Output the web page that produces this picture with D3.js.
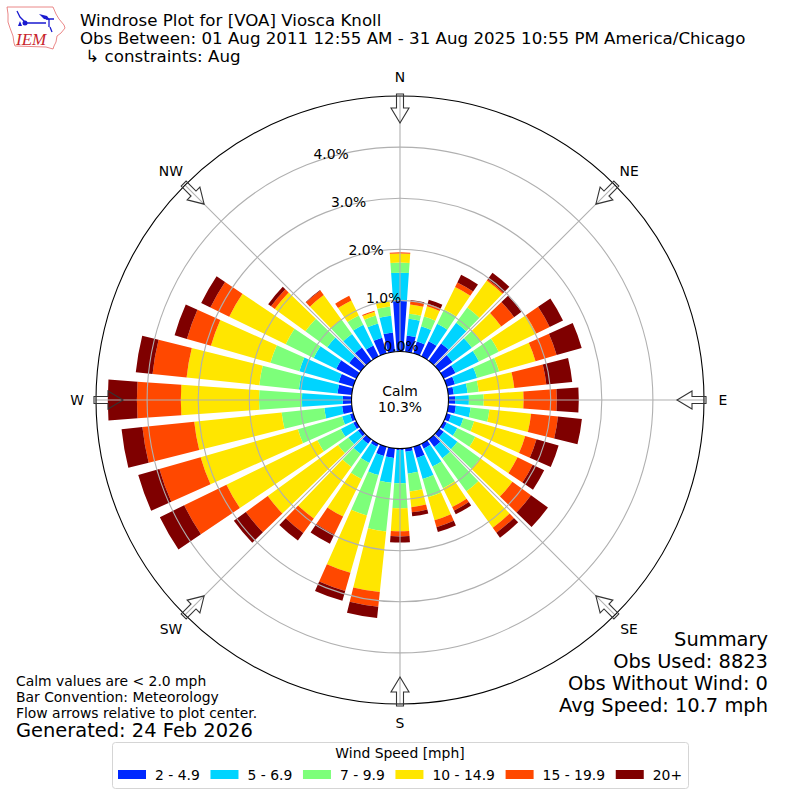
<!DOCTYPE html>
<html>
<head>
<meta charset="utf-8">
<script src="https://cdn.jsdelivr.net/npm/d3@7"></script>
<style>
  html, body { margin: 0; padding: 0; background: #fff; }
  text { font-family: "DejaVu Sans", sans-serif; fill: #000; }
</style>
</head>
<body>
<script>
//wind directions in degrees, one bar every 10 degrees starting at north
var directions = d3.range(0, 360, 10);

//percent of observations per direction for each speed class
var speed2to5 = [.99,.32,.24,.33,.42,.32,.26,.17,.11,.13,.15,.09,.07,.11,.19,.11,.23,.07,.03,.19,.19,.07,.11,.07,.07,.07,.19,.17,.28,.30,.44,.28,.32,.24,.32,.38];
var speed5to7 = [.55,.33,.31,.38,.50,.47,.51,.45,.27,.27,.29,.25,.23,.33,.27,.39,.43,.43,.65,.49,.39,.35,.25,.23,.27,.16,.35,.80,.76,.80,.49,.53,.33,.45,.29,.33];
var speed7to10 = [.20,.10,.20,.31,.37,.22,.43,.45,.22,.29,.37,.22,.39,.55,.80,.47,.37,.35,.49,.96,.82,.35,.31,.25,.51,.90,.84,.84,.78,.59,.61,.53,.35,.20,.16,.18];
var speed10to15 = [.18,.18,.21,.49,.65,.49,.82,.74,.70,.78,.82,1.04,.92,.78,.88,.41,.47,.31,.45,1.19,1.17,.82,1.25,1.70,1.98,1.98,1.72,1.53,1.43,1.21,1.23,.74,.59,.33,.08,.12];
var speed15to20 = [.02,.07,.05,.10,.03,.31,.29,.43,.63,.65,.53,.23,.33,.45,.12,.08,.14,.10,.10,.29,.37,.39,.35,.53,.92,.84,1.02,.86,.67,.49,.41,.09,.11,.10,.02,0];
var speed20up = [0,.02,.08,.17,.16,.18,.29,.51,.51,.43,.47,.45,.25,.41,.12,.08,.10,.08,.12,.22,.20,.20,.18,.29,.53,.43,.41,.57,.33,.25,.20,.07,.01,0,0,0];

var speedLabels = ["2 - 4.9", "5 - 6.9", "7 - 9.9", "10 - 14.9", "15 - 19.9", "20+"];
var speedColors = ["#0028ff", "#00d4ff", "#7dff7a", "#ffe600", "#ff4800", "#7f0000"];

//radial gridlines and compass labels
var ringTicks = [0, 1, 2, 3, 4];
var compassAngles = [0, 45, 90, 135, 180, 225, 270, 315];
var compassLabels = ["N", "NE", "E", "SE", "S", "SW", "W", "NW"];

var titleLines = ["Windrose Plot for [VOA] Viosca Knoll",
    "Obs Between: 01 Aug 2011 12:55 AM - 31 Aug 2025 10:55 PM America/Chicago",
    " \u21b3 constraints: Aug"];
var noteLines = ["Calm values are < 2.0 mph", "Bar Convention: Meteorology", "Flow arrows relative to plot center."];
var summaryLines = ["Summary", "Obs Used: 8823", "Obs Without Wind: 0", "Avg Speed: 10.7 mph"];

//execute script when window is loaded
window.onload = function(){
    var width = 800, height = 800;
    var cx = 400, cy = 400;
    var rad = Math.PI / 180;

    var svg = d3.select("body").append("svg")
        .attr("width", width)
        .attr("height", height)
        .style("display", "block");

    var plot = svg.append("g").attr("transform", "translate(" + cx + "," + cy + ")");

    //percent to pixels, 0% sits on the calm circle
    var r = d3.scaleLinear().domain([0, 5]).range([48.5, 304]);

    //stack the six speed classes per direction
    var table = directions.map(function(d, i){
        return {dir: d, a: speed2to5[i], b: speed5to7[i], c: speed7to10[i], d: speed10to15[i], e: speed15to20[i], f: speed20up[i]};
    });
    var keys = ["a", "b", "c", "d", "e", "f"];
    var stacked = d3.stack().keys(keys)(table);

    var arc = d3.arc()
        .startAngle(function(d){ return (d.data.dir - 4) * rad; })
        .endAngle(function(d){ return (d.data.dir + 4) * rad; })
        .innerRadius(function(d){ return r(d[0]); })
        .outerRadius(function(d){ return r(d[1]); });

    plot.selectAll("g.speed")
        .data(stacked)
        .enter().append("g")
        .attr("class", "speed")
        .attr("fill", function(d, i){ return speedColors[i]; })
        .selectAll("path")
        .data(function(d){ return d; })
        .enter().append("path")
        .attr("d", arc);

    //gridlines go above the bars
    plot.selectAll("circle.ring")
        .data(ringTicks.slice(1))
        .enter().append("circle")
        .attr("class", "ring")
        .attr("r", function(d){ return r(d); })
        .attr("fill", "none")
        .attr("stroke", "#b0b0b0")
        .attr("stroke-width", 1.1);

    plot.selectAll("line.spoke")
        .data(compassAngles)
        .enter().append("line")
        .attr("class", "spoke")
        .attr("x1", function(d){ return r(0) * Math.sin(d * rad); })
        .attr("y1", function(d){ return -r(0) * Math.cos(d * rad); })
        .attr("x2", function(d){ return r(5) * Math.sin(d * rad); })
        .attr("y2", function(d){ return -r(5) * Math.cos(d * rad); })
        .attr("stroke", "#b0b0b0")
        .attr("stroke-width", 1.1);

    //outer frame and calm circle
    plot.append("circle").attr("r", r(5)).attr("fill", "none").attr("stroke", "#000").attr("stroke-width", 1.1);
    plot.append("circle").attr("r", r(0)).attr("fill", "#fff").attr("stroke", "#000").attr("stroke-width", 1.1);

    //flow arrows, drawn pointing in at the centre then rotated
    var arrowPoints = "-3.5,-306 3.5,-306 3.5,-292 9,-292 0,-277 -9,-292 -3.5,-292";
    plot.selectAll("polygon.flow")
        .data(compassAngles)
        .enter().append("polygon")
        .attr("class", "flow")
        .attr("points", arrowPoints)
        .attr("transform", function(d){ return "rotate(" + d + ")"; })
        .attr("fill", "none")
        .attr("stroke", "#333")
        .attr("stroke-width", 1.1);

    //radial labels run up a line 20 degrees off north
    plot.selectAll("text.rlabel")
        .data(ringTicks)
        .enter().append("text")
        .attr("class", "rlabel")
        .attr("x", function(d){ return -r(d) * Math.sin(20 * rad); })
        .attr("y", function(d){ return -r(d) * Math.cos(20 * rad) - 3.5; })
        .attr("font-size", 13.9)
        .text(function(d){ return d.toFixed(1) + "%"; });

    //compass labels
    plot.selectAll("text.compass")
        .data(compassAngles)
        .enter().append("text")
        .attr("class", "compass")
        .attr("x", function(d){ return (d % 90 ? 324 : 323) * Math.sin(d * rad); })
        .attr("y", function(d){ return -(d % 90 ? 324 : 323) * Math.cos(d * rad); })
        .attr("text-anchor", "middle")
        .attr("dominant-baseline", "central")
        .attr("font-size", 13.9)
        .text(function(d, i){ return compassLabels[i]; });

    //calm text in the middle
    plot.append("text").attr("text-anchor", "middle").attr("y", -4).attr("font-size", 13.9).text("Calm");
    plot.append("text").attr("text-anchor", "middle").attr("y", 12).attr("font-size", 13.9).text("10.3%");

    //title block
    svg.selectAll("text.title")
        .data(titleLines)
        .enter().append("text")
        .attr("class", "title")
        .attr("x", 80)
        .attr("y", function(d, i){ return 26 + i * 18; })
        .attr("font-size", 16.67)
        .style("white-space", "pre")
        .text(function(d){ return d; });

    //notes, lower left
    svg.selectAll("text.note")
        .data(noteLines)
        .enter().append("text")
        .attr("class", "note")
        .attr("x", 16)
        .attr("y", function(d, i){ return 685.5 + i * 16; })
        .attr("font-size", 13.9)
        .text(function(d){ return d; });
    svg.append("text").attr("x", 16).attr("y", 736.5).attr("font-size", 19.44).text("Generated: 24 Feb 2026");

    //summary, lower right
    svg.selectAll("text.summary")
        .data(summaryLines)
        .enter().append("text")
        .attr("class", "summary")
        .attr("x", 768)
        .attr("y", function(d, i){ return 646 + i * 22; })
        .attr("text-anchor", "end")
        .attr("font-size", 19.44)
        .text(function(d){ return d; });

    //legend
    var legend = svg.append("g");
    legend.append("rect")
        .attr("x", 112.5).attr("y", 742.5)
        .attr("width", 576).attr("height", 46)
        .attr("rx", 3)
        .attr("fill", "#fff")
        .attr("stroke", "#d5d5d5");
    legend.append("text")
        .attr("x", 400).attr("y", 758)
        .attr("text-anchor", "middle")
        .attr("font-size", 13.9)
        .text("Wind Speed [mph]");

    //legend entries are laid out one after the other from their text widths
    var entryX = 118;
    speedLabels.forEach(function(label, i){
        legend.append("rect")
            .attr("x", entryX).attr("y", 770)
            .attr("width", 28).attr("height", 9)
            .attr("fill", speedColors[i]);
        var t = legend.append("text")
            .attr("x", entryX + 37).attr("y", 780)
            .attr("font-size", 13.9)
            .text(label);
        entryX += 37 + t.node().getComputedTextLength() + 10.7;
    });

    //IEM logo
    var logo = svg.append("g");
    logo.append("path")
        .attr("d", "M7,7 L53,7 L56,14 L59,19 L64,25 L65,28 L61,33 L57,36 L56,42 L54,46 L53,49 L46,47 L15,46 L14,43 L13,36 L10,28 L8,22 L8,14 Z")
        .attr("fill", "#fff")
        .attr("stroke", "#e56a6a")
        .attr("stroke-width", 0.8);
    logo.append("path")
        .attr("d", "M17,11 L20,17 L25,22 M25,23 L46,23 M46,19 L54,19 M49,19 L49,27 M50,27 L52,32")
        .attr("fill", "none")
        .attr("stroke", "#1a1ad0")
        .attr("stroke-width", 1.3);
    logo.append("circle").attr("cx", 25).attr("cy", 23).attr("r", 2.5).attr("fill", "#1a1ad0");
    logo.append("path").attr("d", "M18,26 L22,26 L20,21 Z").attr("fill", "#1a1ad0");
    logo.append("path").attr("d", "M39,14 L47,16 L50,20 L44,19 Z").attr("fill", "#1a1ad0");
    logo.append("text")
        .attr("x", 16).attr("y", 45)
        .attr("font-size", 17)
        .attr("font-style", "italic")
        .style("font-family", "'Liberation Serif', serif")
        .style("fill", "#c8242b")
        .text("IEM");
};
</script>
</body>
</html>
